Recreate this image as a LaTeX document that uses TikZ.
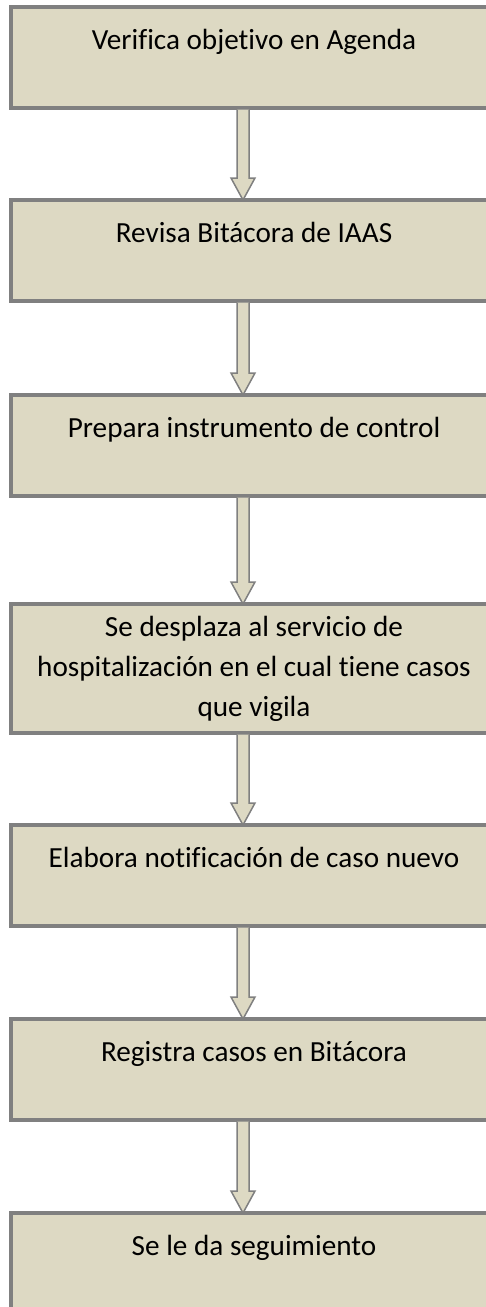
\documentclass[tikz,border=0pt]{standalone}
\usepackage{fontspec}
\setmainfont{Carlito}[Ligatures=NoCommon]
\usetikzlibrary{calc,positioning}
\definecolor{tan}{HTML}{DDD9C3}
\definecolor{edge}{HTML}{808080}
\newcommand{\flecha}[2]{%
  \path[flechabox] ($(#1.south -| eje)+(-6,-1.5)$) -- ($(#2.north -| eje)+(-6,22)$) -- ++(-6,0)
    -- (#2.north -| eje) -- ++(12,22) -- ++(-6,0) -- ($(#1.south -| eje)+(6,-1.5)$);}
\newcommand{\uno}[1]{#1\strut\\[-8pt]\strut}
\begin{document}
\begin{tikzpicture}[x=1pt,y=1pt,every node/.style={block},
  block/.style={minimum width=486pt,minimum height=101pt,outer sep=0pt,draw=edge,fill=tan,
    line width=3.5pt,rectangle,align=center,inner sep=0pt,
    font=\fontsize{29.2}{40}\selectfont},
  flechabox/.style={draw=edge,fill=tan,line width=1.5pt,line join=miter}]

        \useasboundingbox (0,0) rectangle (486,-1307);
        \coordinate (eje) at (243,0);

        \node (A) at (254,-57.5) {\uno{Verifica objetivo en Agenda}};
        \node (B) [below = 92pt of A] {\uno{Revisa Bitácora de IAAS}};
        \node (C) [below = 94pt of B] {\uno{Prepara instrumento de control}};
        \node (D) [below = 108pt of C, minimum height=129pt] {Se desplaza al servicio de\strut\\
          hospitalización en el cual tiene casos\strut\\que vigila\strut};
        \node (E) [below = 92pt of D] {\uno{Elabora notificación de caso nuevo}};
        \node (F) [below = 93pt of E] {\uno{Registra casos en Bitácora}};
        \node (G) [below = 93pt of F] {\uno{Se le da seguimiento}};

        \flecha{A}{B} \flecha{B}{C} \flecha{C}{D}
        \flecha{D}{E} \flecha{E}{F} \flecha{F}{G}
               \end{tikzpicture}
\end{document}
